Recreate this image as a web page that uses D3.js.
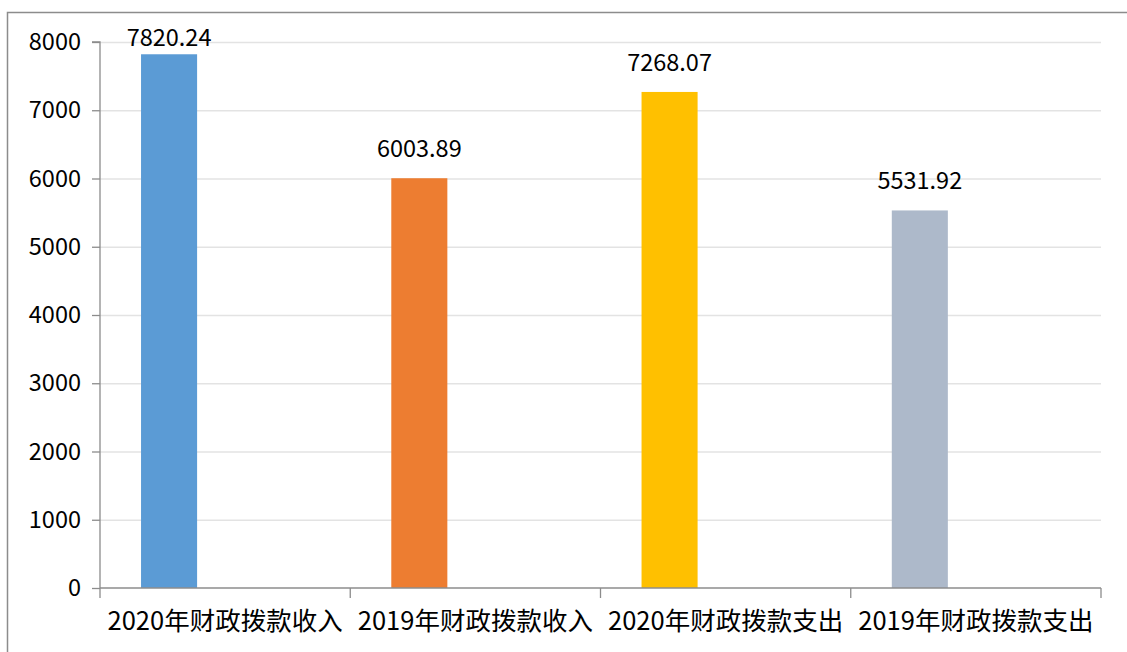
<!DOCTYPE html>
<html><head><meta charset="utf-8">
<script src="https://cdn.jsdelivr.net/npm/d3@7/dist/d3.min.js"></script>
<style>body{margin:0;background:#fff;} svg{display:block;}</style>
</head><body>
<svg id="c" width="1127" height="652"></svg>
<script>
const categories = ["2020年财政拨款收入","2019年财政拨款收入","2020年财政拨款支出","2019年财政拨款支出"];
const values = [7820.24, 6003.89, 7268.07, 5531.92];
const colors = ["#5B9BD5","#ED7D31","#FFC000","#ADB9CA"];
const yTicks = [0,1000,2000,3000,4000,5000,6000,7000,8000];

const svg = d3.select("#c");
const W = 1127, H = 652;
const m = {l:100, r:26, t:42, b:64};
const x = d3.scaleBand().domain(categories).range([m.l, W - m.r]).padding(0);
const y = d3.scaleLinear().domain([0, 8000]).range([H - m.b, m.t]);
const font = "'Noto Sans CJK SC','Noto Sans',sans-serif";

// outer border
svg.append("rect").attr("x",7.5).attr("y",12.5).attr("width",W+10).attr("height",H+10)
  .attr("fill","none").attr("stroke","#8c8c8c").attr("stroke-width",1.5);

// gridlines
svg.append("g").selectAll("line").data(yTicks.filter(d=>d>0)).join("line")
  .attr("x1",m.l).attr("x2",W-m.r).attr("y1",d=>y(d)+0.5).attr("y2",d=>y(d)+0.5)
  .attr("stroke","#e3e3e3").attr("stroke-width",1.3);

// bars
svg.append("g").selectAll("rect").data(values).join("rect")
  .attr("x",(d,i)=>x(categories[i]) + x.bandwidth()*0.164)
  .attr("width",x.bandwidth()*0.224)
  .attr("y",d=>y(d)).attr("height",d=>y(0)-y(d))
  .attr("fill",(d,i)=>colors[i]);

// y axis
const ya = svg.append("g").attr("transform",`translate(${m.l},0)`)
  .call(d3.axisLeft(y).tickValues(yTicks).tickSize(8).tickPadding(11).tickFormat(d3.format("d")));
ya.select(".domain").attr("stroke","#8c8c8c").attr("stroke-width",1.3).attr("d",`M-8,${y(8000)}H0V${y(0)}`);
ya.selectAll(".tick line").attr("stroke","#8c8c8c").attr("stroke-width",1.3);
ya.selectAll(".tick text").attr("font-family",font).attr("font-size",23.5).attr("fill","#000");

// x axis
const xa = svg.append("g").attr("transform",`translate(0,${y(0)})`);
xa.append("line").attr("x1",m.l).attr("x2",W-m.r).attr("y1",0).attr("y2",0)
  .attr("stroke","#8c8c8c").attr("stroke-width",1.5);
const bounds = categories.map(c=>x(c)).concat([x(categories[categories.length-1])+x.bandwidth()]);
xa.selectAll("line.t").data(bounds).join("line").attr("class","t")
  .attr("x1",d=>d).attr("x2",d=>d).attr("y1",0).attr("y2",10)
  .attr("stroke","#8c8c8c").attr("stroke-width",1.3);
xa.selectAll("text").data(categories).join("text")
  .attr("x",d=>x(d)+x.bandwidth()/2).attr("y",42)
  .attr("text-anchor","middle").attr("font-family",font).attr("font-size",25.5)
  .attr("fill","#000").text(d=>d);

// value labels
svg.append("g").selectAll("text").data(values).join("text")
  .attr("x",(d,i)=>x(categories[i]) + x.bandwidth()*0.276)
  .attr("y",d=>Math.max(y(d)-21, 46))
  .attr("text-anchor","middle").attr("font-family",font).attr("font-size",23.5)
  .attr("fill","#000").text(d=>d3.format(".2f")(d));
</script>
</body></html>
